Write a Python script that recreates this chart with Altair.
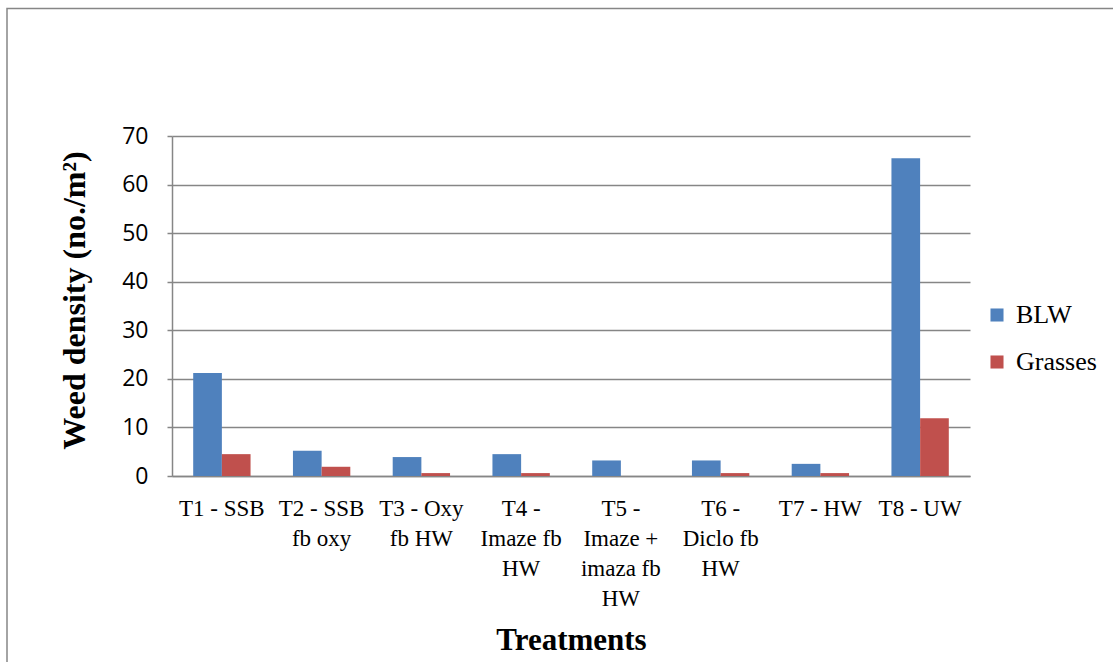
import altair as alt
import pandas as pd

treatments = ["T1 - SSB", "T2 - SSB|fb oxy", "T3 - Oxy|fb HW", "T4 -|Imaze fb|HW",
              "T5 -|Imaze +|imaza fb|HW", "T6 -|Diclo fb|HW", "T7 - HW", "T8 - UW"]
blw = [21.2, 5.2, 3.9, 4.5, 3.2, 3.2, 2.5, 65.4]
grasses = [4.5, 1.9, 0.6, 0.6, 0.0, 0.6, 0.6, 11.9]
series = ["BLW", "Grasses"]
colors = ["#4F81BD", "#C0504D"]
y_ticks = [0, 10, 20, 30, 40, 50, 60, 70]

rows = []
for t, b, g in zip(treatments, blw, grasses):
    rows.append({"Treatment": t, "Series": "BLW", "Value": b})
    rows.append({"Treatment": t, "Series": "Grasses", "Value": g})
df = pd.DataFrame(rows)

W, H = 798, 340
PL, PT = 172, 136
GRAY = "#868686"

bars = alt.Chart(df).mark_bar().encode(
    x=alt.X("Treatment:N", sort=treatments,
            scale=alt.Scale(paddingInner=0.425, paddingOuter=0.2125),
            axis=alt.Axis(
                title="Treatments",
                labelExpr="split(datum.label, '|')",
                labelAngle=0, labelFont="Liberation Serif", labelFontSize=23,
                labelColor="black", labelBaseline="top", labelPadding=21,
                labelLineHeight=30, labelOverlap=False, labelLimit=0,
                ticks=False, domainColor=GRAY, domainWidth=1.5,
                titleFont="Liberation Serif", titleFontSize=31, titleFontWeight="bold",
                titleColor="black", titleY=164, titleBaseline="middle",
            )),
    xOffset=alt.XOffset("Series:N", sort=series),
    y=alt.Y("Value:Q",
            scale=alt.Scale(domain=[0, 70], nice=False),
            axis=alt.Axis(
                values=y_ticks, title="Weed density (no./m²)",
                labelFont="Open Sans", labelFontSize=23, labelColor="black",
                labelPadding=19, tickSize=5, tickColor=GRAY, tickWidth=1.5,
                domainColor=GRAY, domainWidth=1.5,
                grid=True, gridColor=GRAY, gridWidth=1.5,
                titleFont="Liberation Serif", titleFontSize=32, titleFontWeight="bold",
                titleColor="black", titleX=-98, titleY=H / 2 - 6, titleAngle=-90,
                titleAlign="center", titleBaseline="middle",
            )),
    color=alt.Color("Series:N", sort=series,
                    scale=alt.Scale(domain=series, range=colors),
                    legend=alt.Legend(
                        title=None, orient="none", legendX=812, legendY=166,
                        symbolType="square", symbolSize=170, symbolStrokeWidth=0,
                        labelFont="Liberation Serif", labelFontSize=26,
                        labelColor="black", rowPadding=21, labelOffset=6,
                    )),
)

frame = alt.Chart(pd.DataFrame({"a": [0]})).mark_rect(
    fill=None, stroke=GRAY, strokeWidth=1.5
).encode(
    x=alt.value(7 - PL), x2=alt.value(1113 - PL + 20),
    y=alt.value(8.5 - PT), y2=alt.value(662 - PT + 20),
)

chart = alt.layer(frame, bars).properties(
    width=W, height=H,
    autosize=alt.AutoSizeParams(type="none"),
    padding={"left": PL, "top": PT, "right": 1113 - PL - W, "bottom": 662 - PT - H},
    background="white",
).configure_view(stroke=None)

chart.save("out.html", embed_options={"renderer": "svg", "actions": False})
